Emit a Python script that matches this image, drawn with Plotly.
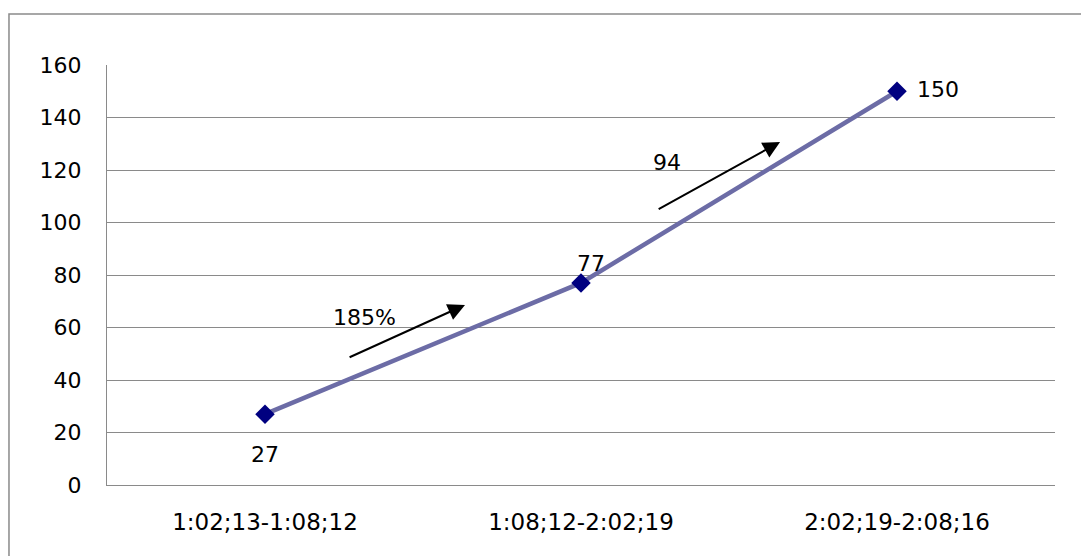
import plotly.graph_objects as go

categories = ["1:02;13-1:08;12", "1:08;12-2:02;19", "2:02;19-2:08;16"]
values = [27, 77, 150]
y_ticks = [0, 20, 40, 60, 80, 100, 120, 140, 160]

# growth notes between periods: text, text position, arrow tail, arrow head
note_texts = ["185%", "94"]
note_x = [0.316, 1.272]
note_y = [64, 122.7]
arrow_tail_x = [0.263, 1.241]
arrow_tail_y = [48.4, 104.8]
arrow_head_x = [0.633, 1.630]
arrow_head_y = [68.6, 130.7]

FONT = "DejaVu Sans"
GRID = "#8a8a8a"

fig = go.Figure()
fig.add_trace(go.Scatter(
    x=categories, y=values, mode="lines+markers",
    line=dict(color="#6c6ca6", width=4.5),
    marker=dict(symbol="diamond", size=15, color="#000080"),
    hoverinfo="skip", showlegend=False,
))

# data labels
label_shift = [(0, -40), (10, 19), (41, 2)]
annos = []
for i, v in enumerate(values):
    dx, dy = label_shift[i]
    annos.append(dict(x=i, y=v, xref="x", yref="y", text=str(v), showarrow=False,
                      xshift=dx, yshift=dy, font=dict(family=FONT, size=22, color="black")))

for i in range(len(note_texts)):
    annos.append(dict(x=note_x[i], y=note_y[i], xref="x", yref="y", text=note_texts[i],
                      showarrow=False, font=dict(family=FONT, size=22, color="black")))
    annos.append(dict(x=arrow_head_x[i], y=arrow_head_y[i], xref="x", yref="y",
                      ax=arrow_tail_x[i], ay=arrow_tail_y[i], axref="x", ayref="y",
                      text="", showarrow=True, arrowhead=2, arrowsize=1.7,
                      arrowwidth=2, arrowcolor="black", standoff=0, startstandoff=0))

fig.update_layout(
    width=1081, height=548,
    margin=dict(l=99, r=34, t=57, b=71),
    paper_bgcolor="white", plot_bgcolor="white",
    font=dict(family=FONT, size=22, color="black"),
    annotations=annos,
    shapes=[dict(type="rect", xref="paper", yref="paper",
                 x0=-0.1034, x1=1.06, y0=-0.2, y1=1.1214,
                 line=dict(color="#8a8a8a", width=1.5), fillcolor="rgba(0,0,0,0)",
                 layer="below")],
    xaxis=dict(type="category", range=[-0.5, 2.5], showgrid=False,
               showline=True, linecolor=GRID, linewidth=1, ticks="",
               ticklabelstandoff=16, tickfont=dict(family=FONT, size=23),
               fixedrange=True),
    yaxis=dict(range=[0, 160], tickvals=y_ticks, showgrid=True, gridcolor=GRID,
               gridwidth=1, showline=True, linecolor=GRID, linewidth=1, ticks="",
               ticklabelstandoff=20, tickfont=dict(family=FONT, size=22),
               zeroline=False, fixedrange=True),
)

fig.write_html("out.html")
